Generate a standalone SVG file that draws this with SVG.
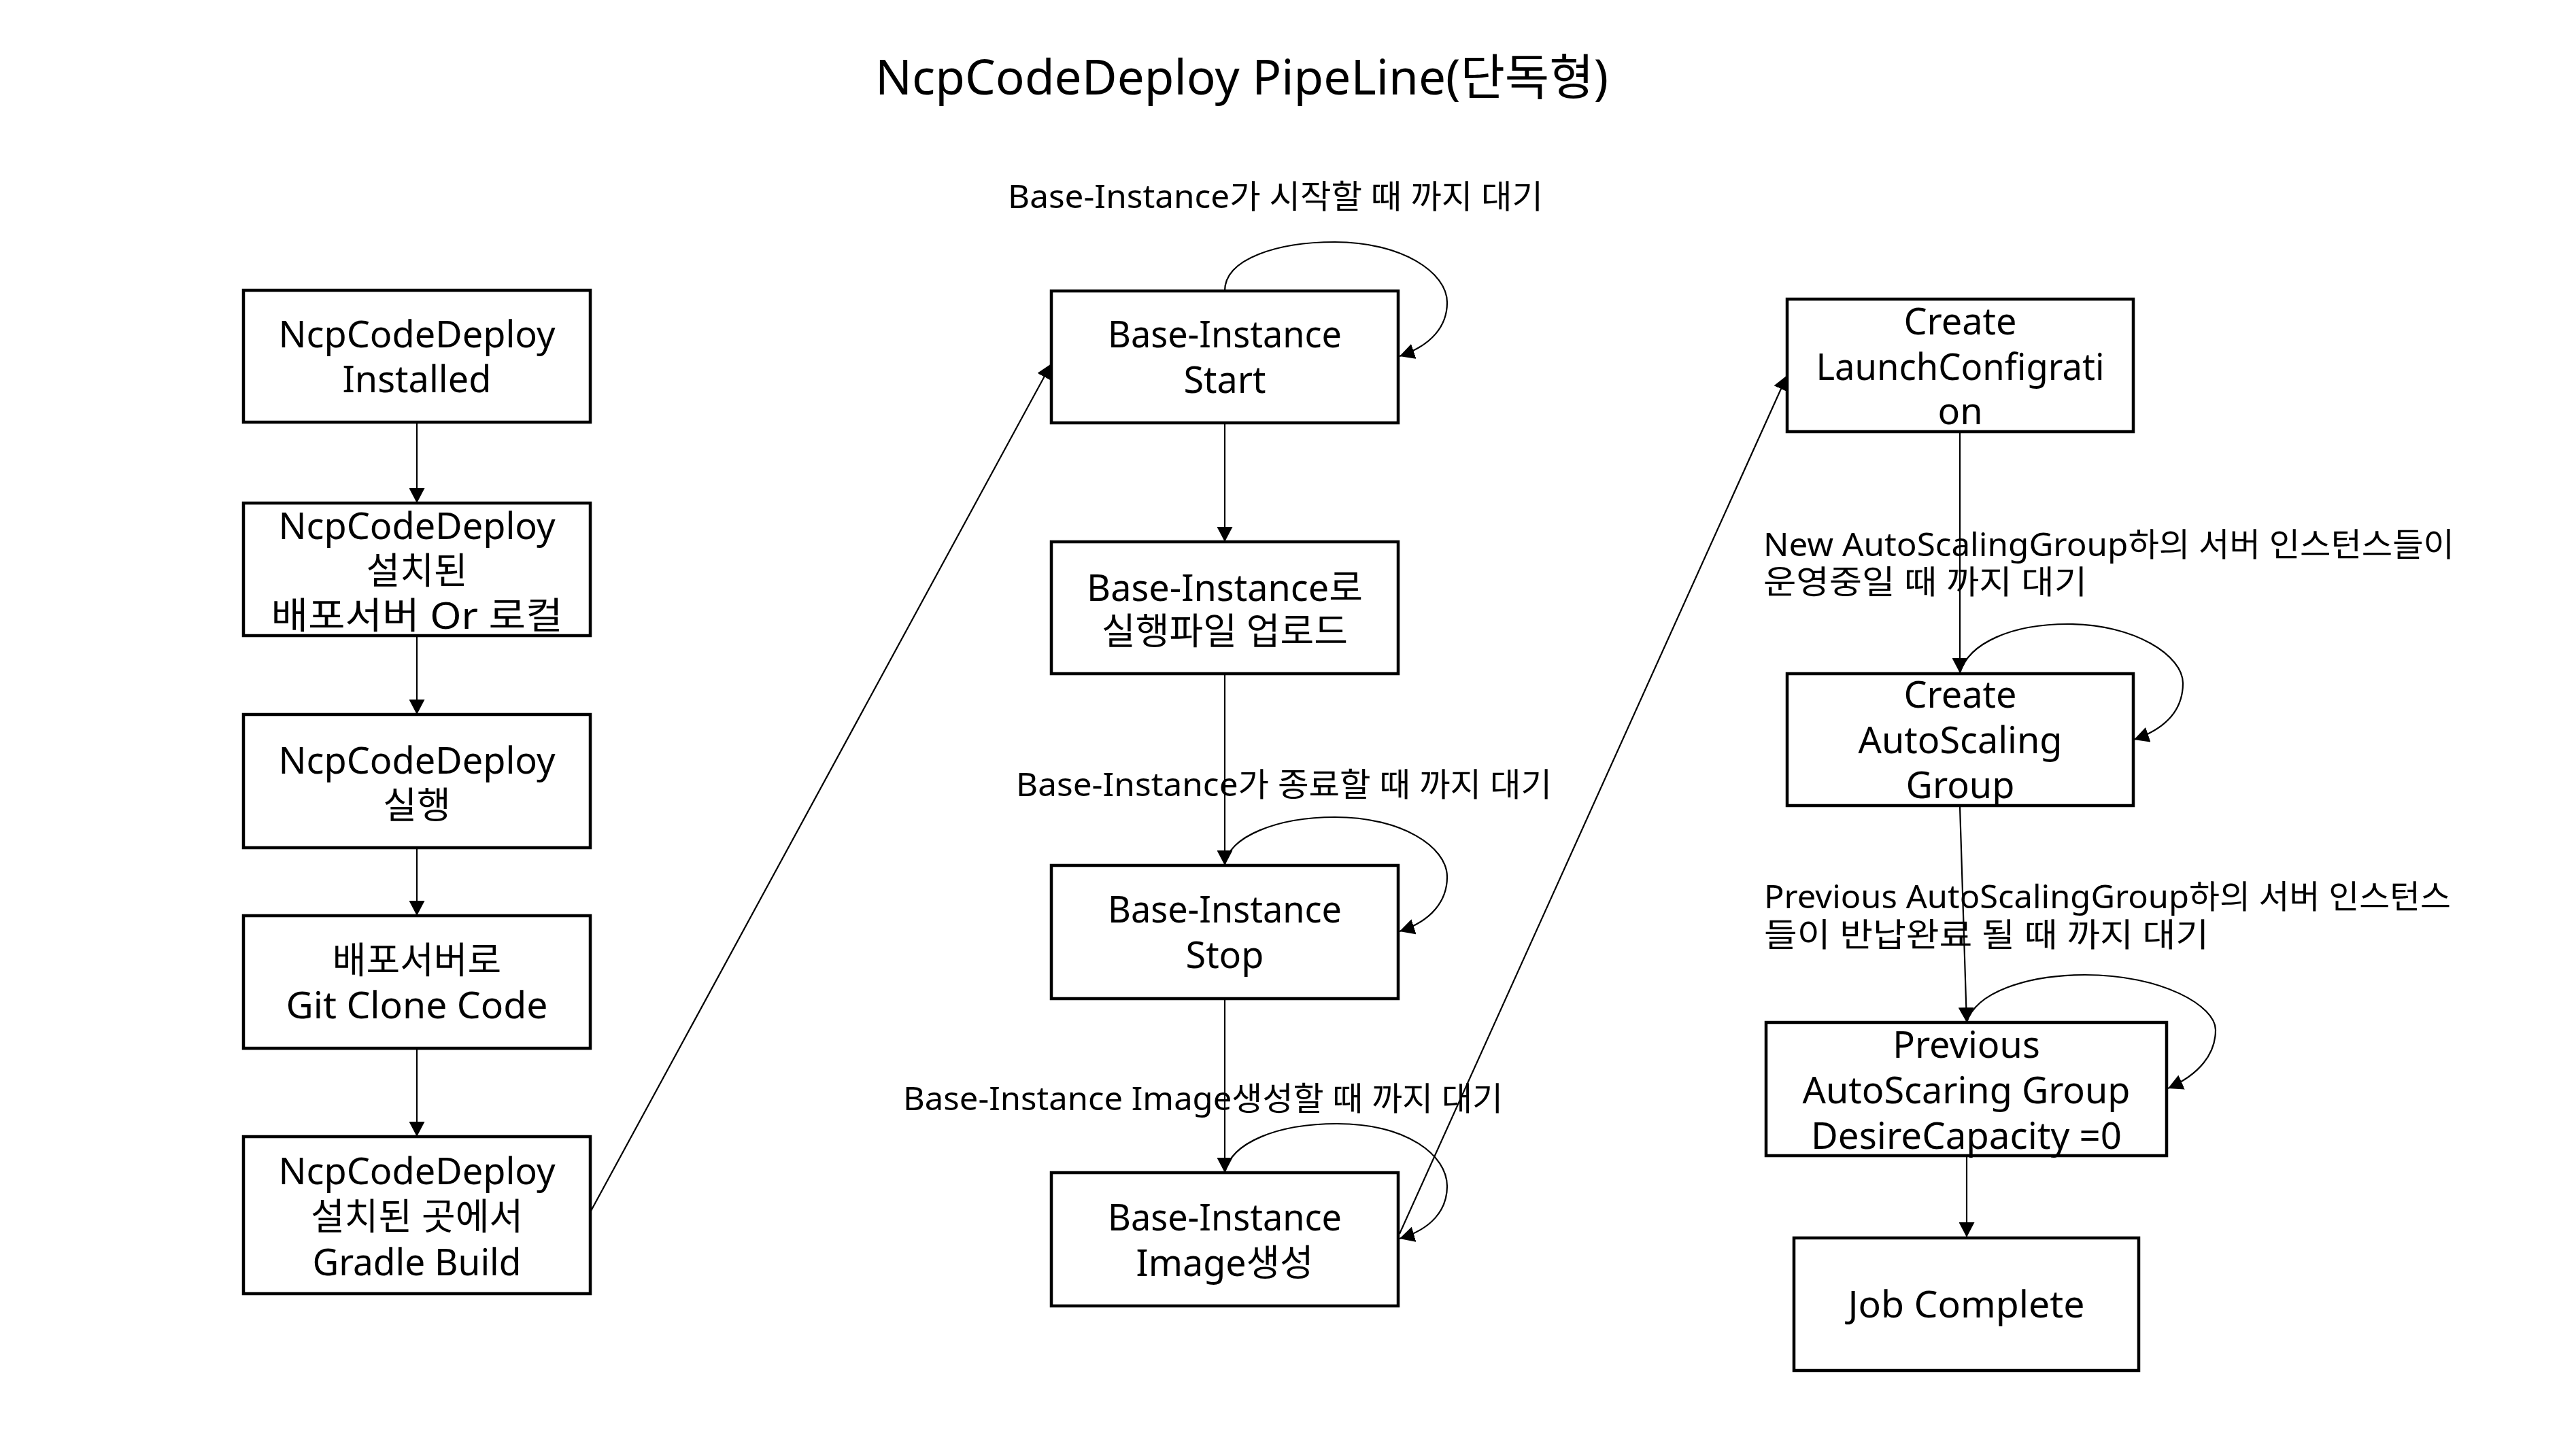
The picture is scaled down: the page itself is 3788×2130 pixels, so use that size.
<svg xmlns="http://www.w3.org/2000/svg" width="3788" height="2130" viewBox="0 0 3788 2130">
<defs>
<style>
.box{fill:#fff;stroke:#000;stroke-width:4.5}
.t{font-family:"Noto Sans","Noto Sans CJK KR",sans-serif;font-size:54px;text-anchor:middle;fill:#000}
.lbl{font-family:"Noto Sans","Noto Sans CJK KR",sans-serif;font-size:48px;fill:#000}
.title{font-family:"Noto Sans","Noto Sans CJK KR",sans-serif;font-size:72px;fill:#000}
.edge{fill:none;stroke:#000;stroke-width:2.2;marker-end:url(#ah)}
</style>
<marker id="ah" viewBox="0 0 22 23" refX="22" refY="11.5" markerWidth="22" markerHeight="23" markerUnits="userSpaceOnUse" orient="auto">
<path d="M0,0 L22,11.5 L0,23 z" fill="#000"/>
</marker>
</defs>
<rect x="0" y="0" width="3788" height="2130" fill="#fff"/>
<text class="title" x="1287" y="139" textLength="1078" lengthAdjust="spacingAndGlyphs">NcpCodeDeploy PipeLine(단독형)</text>

<g id="connectors">
<path class="edge" d="M613,621 L613,740"/>
<path class="edge" d="M613,935 L613,1051"/>
<path class="edge" d="M613,1247 L613,1347"/>
<path class="edge" d="M613,1542 L613,1672"/>
<path class="edge" d="M868,1783 L1546,535"/>
<path class="edge" d="M1801,621 L1801,797"/>
<path class="edge" d="M1801,990 L1801,1273"/>
<path class="edge" d="M1801,1469 L1801,1725"/>
<path class="edge" d="M2058,1815 L2628,552"/>
<path class="edge" d="M2882,635 L2882,990"/>
<path class="edge" d="M2882,1186 L2892,1504"/>
<path class="edge" d="M2892,1700 L2892,1820"/>
<path class="edge" d="M1801,428 C1801,380 1880,356 1963,356 C2060,356 2128,400 2128,445 C2128,480 2105,508 2058,524"/>
<path class="edge" d="M1801,1273 C1805,1230 1880,1202 1963,1202 C2060,1202 2128,1245 2128,1290 C2128,1325 2105,1355 2058,1370"/>
<path class="edge" d="M1801,1725 C1810,1680 1880,1653 1966,1653 C2070,1653 2128,1700 2128,1745 C2128,1780 2105,1808 2058,1822"/>
<path class="edge" d="M2882,990 C2895,945 2960,918 3041,918 C3140,918 3210,965 3210,1005 C3210,1040 3190,1070 3138,1088"/>
<path class="edge" d="M2892,1504 C2905,1460 2980,1434 3066,1434 C3180,1434 3258,1480 3258,1515 C3258,1550 3235,1580 3188,1601"/>
</g>

<g id="label-start">
<text class="lbl" x="1482" y="306" textLength="787" lengthAdjust="spacingAndGlyphs">Base-Instance가 시작할 때 까지 대기</text>
</g>
<g id="label-stop">
<text class="lbl" x="1494" y="1171" textLength="788" lengthAdjust="spacingAndGlyphs">Base-Instance가 종료할 때 까지 대기</text>
</g>
<g id="label-image">
<text class="lbl" x="1328" y="1633" textLength="882" lengthAdjust="spacingAndGlyphs">Base-Instance Image생성할 때 까지 대기</text>
</g>
<g id="label-newasg">
<text class="lbl" x="2593" y="818" textLength="1016" lengthAdjust="spacingAndGlyphs">New AutoScalingGroup하의 서버 인스턴스들이</text>
<text class="lbl" x="2593" y="873" textLength="476" lengthAdjust="spacingAndGlyphs">운영중일 때 까지 대기</text>
</g>
<g id="label-prevasg">
<text class="lbl" x="2594" y="1336" textLength="1010" lengthAdjust="spacingAndGlyphs">Previous AutoScalingGroup하의 서버 인스턴스</text>
<text class="lbl" x="2594" y="1392" textLength="654" lengthAdjust="spacingAndGlyphs">들이 반납완료 될 때 까지 대기</text>
</g>

<g id="n-installed">
<rect class="box" x="358" y="427" width="510" height="194"/>
<text class="t" x="613" y="511" textLength="407" lengthAdjust="spacingAndGlyphs">NcpCodeDeploy</text>
<text class="t" x="613" y="577">Installed</text>
</g>
<g id="n-target">
<rect class="box" x="358" y="740" width="510" height="195"/>
<text class="t" x="613" y="793" textLength="407" lengthAdjust="spacingAndGlyphs">NcpCodeDeploy</text>
<text class="t" x="613" y="859">설치된</text>
<text class="t" x="613" y="925" textLength="429" lengthAdjust="spacingAndGlyphs">배포서버 Or 로컬</text>
</g>
<g id="n-run">
<rect class="box" x="358" y="1051" width="510" height="196"/>
<text class="t" x="613" y="1138" textLength="407" lengthAdjust="spacingAndGlyphs">NcpCodeDeploy</text>
<text class="t" x="613" y="1204">실행</text>
</g>
<g id="n-clone">
<rect class="box" x="358" y="1347" width="510" height="195"/>
<text class="t" x="613" y="1432">배포서버로</text>
<text class="t" x="613" y="1498" textLength="385" lengthAdjust="spacingAndGlyphs">Git Clone Code</text>
</g>
<g id="n-build">
<rect class="box" x="358" y="1672" width="510" height="231"/>
<text class="t" x="613" y="1742" textLength="407" lengthAdjust="spacingAndGlyphs">NcpCodeDeploy</text>
<text class="t" x="613" y="1809">설치된 곳에서</text>
<text class="t" x="613" y="1876" textLength="307" lengthAdjust="spacingAndGlyphs">Gradle Build</text>
</g>

<g id="n-bi-start">
<rect class="box" x="1546" y="428" width="510" height="194"/>
<text class="t" x="1801" y="511" textLength="344" lengthAdjust="spacingAndGlyphs">Base-Instance</text>
<text class="t" x="1801" y="578">Start</text>
</g>
<g id="n-bi-upload">
<rect class="box" x="1546" y="797" width="510" height="194"/>
<text class="t" x="1801" y="884">Base-Instance로</text>
<text class="t" x="1801" y="948">실행파일 업로드</text>
</g>
<g id="n-bi-stop">
<rect class="box" x="1546" y="1273" width="510" height="196"/>
<text class="t" x="1801" y="1357" textLength="344" lengthAdjust="spacingAndGlyphs">Base-Instance</text>
<text class="t" x="1801" y="1424">Stop</text>
</g>
<g id="n-bi-image">
<rect class="box" x="1546" y="1725" width="510" height="196"/>
<text class="t" x="1801" y="1810" textLength="344" lengthAdjust="spacingAndGlyphs">Base-Instance</text>
<text class="t" x="1801" y="1877" textLength="261" lengthAdjust="spacingAndGlyphs">Image생성</text>
</g>

<g id="n-launchconfig">
<rect class="box" x="2628" y="440" width="509" height="195"/>
<text class="t" x="2882.5" y="492">Create</text>
<text class="t" x="2882.5" y="559" textLength="424" lengthAdjust="spacingAndGlyphs">LaunchConfigrati</text>
<text class="t" x="2882.5" y="624">on</text>
</g>
<g id="n-asg">
<rect class="box" x="2628" y="991" width="509" height="194"/>
<text class="t" x="2882.5" y="1041">Create</text>
<text class="t" x="2882.5" y="1108" textLength="300" lengthAdjust="spacingAndGlyphs">AutoScaling</text>
<text class="t" x="2882.5" y="1174">Group</text>
</g>
<g id="n-prev">
<rect class="box" x="2597" y="1504" width="589" height="196"/>
<text class="t" x="2891.5" y="1556">Previous</text>
<text class="t" x="2891.5" y="1623" textLength="482" lengthAdjust="spacingAndGlyphs">AutoScaring Group</text>
<text class="t" x="2891.5" y="1690" textLength="457" lengthAdjust="spacingAndGlyphs">DesireCapacity =0</text>
</g>
<g id="n-job">
<rect class="box" x="2638" y="1821" width="507" height="195"/>
<text class="t" x="2891.5" y="1938" textLength="348" lengthAdjust="spacingAndGlyphs">Job Complete</text>
</g>
</svg>
